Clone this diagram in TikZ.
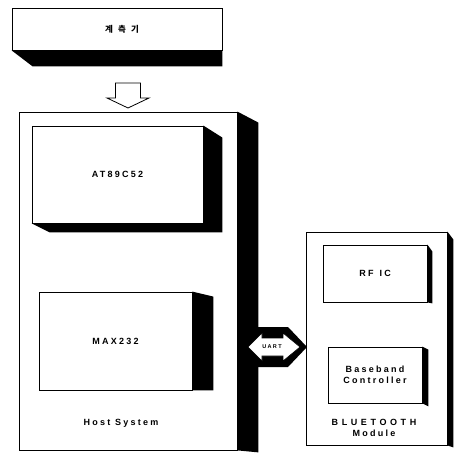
\documentclass[tikz,border=0pt]{standalone}
\usepackage{fontspec}
\usepackage{tikz}
\usetikzlibrary{calc,positioning}
\newfontfamily\lblfont[LetterSpace=25]{Liberation Sans}
\newfontfamily\krfont[LetterSpace=60]{Noto Sans CJK KR}

\begin{document}
\begin{tikzpicture}[x=1pt,y=-1pt,
  blk/.style={draw,fill=white,line width=.8pt,inner sep=0pt,
    font=\lblfont\bfseries\fontsize{9}{11}\selectfont,align=center},
  lbl/.style={inner sep=0pt,font=\lblfont\bfseries\fontsize{9}{11}\selectfont,align=center}]
\useasboundingbox (0,0) rectangle (453,454);
\node[blk,minimum width=210pt,minimum height=42pt] (meter) at (117,29) {\krfont\bfseries\fontsize{8.5}{10}\selectfont\hspace*{10pt}계측기};
\fill (meter.south west) -- (meter.south east) -- ++(0,16) -- ([shift={(21,16)}]meter.south west) -- cycle;
\draw[fill=white,line width=.8pt] (115.5,83) coordinate (feed) -- (140.5,83) -- (140.5,98) -- (149,98) -- (128,108)
  -- (107,98) -- (115.5,98) -- cycle;
\node[blk,minimum width=218pt,minimum height=338pt] (host) at (128,281) {};
\fill (host.north east) -- ++(21,11) -- ([shift={(21,2)}]host.south east) -- (host.south east) -- cycle;
\node[blk,minimum width=171pt,minimum height=97pt] (mcu) at (117.5,174.5) {AT89C52};
\fill (mcu.north east) -- ++(19,12) -- ([shift={(19,9)}]mcu.south east) -- ([shift={(18,9)}]mcu.south west)
  -- (mcu.south west) -- (mcu.south east) -- cycle;
\node[blk,minimum width=153pt,minimum height=98pt] (drv) at (115.5,341) {MAX232};
\fill (drv.north east) -- ++(21,5) -- ([shift={(21,0)}]drv.south east) -- (drv.south east) -- cycle;
\node[lbl] (hostlbl) at (121,423) {Host System};
\node[blk,minimum width=141pt,minimum height=213pt] (bt) at (376.5,338.5) {};
\fill (bt.north east) -- ++(6,8) -- ([shift={(6,2)}]bt.south east) -- (bt.south east) -- cycle;
\node[blk,minimum width=104pt,minimum height=57pt] (rf) at (375,273.5) {RF\hspace{6pt}IC};
\fill (rf.north east) -- ++(5,7) -- ([shift={(5,1)}]rf.south east) -- (rf.south east) -- cycle;
\node[blk,minimum width=94pt,minimum height=56pt] (bb) at (375,375) {Baseband\\Controller};
\fill (bb.north east) -- ++(6,3) -- ([shift={(6,3)}]bb.south east) -- (bb.south east) -- cycle;
\node[lbl] (btlbl) at (374,428) {\addfontfeature{LetterSpace=40}BLUETOOTH\\Module};
\fill (250,347) coordinate (uartsh) -- (256,327) -- (288,327) -- (307,347) -- (288,367) -- (256,367) -- cycle;
\draw[fill=white,line width=.6pt] (248,347) coordinate (uart) -- (262,333) -- (262,338) -- (283,338) -- (283,333)
  -- (300,347) -- (283,361) -- (283,356) -- (262,356) -- (262,361) -- cycle;
\node[inner sep=0pt,font=\lblfont\bfseries\fontsize{5.5}{6}\selectfont] (uartlbl) at (272,347) {UART};
\end{tikzpicture}
\end{document}
